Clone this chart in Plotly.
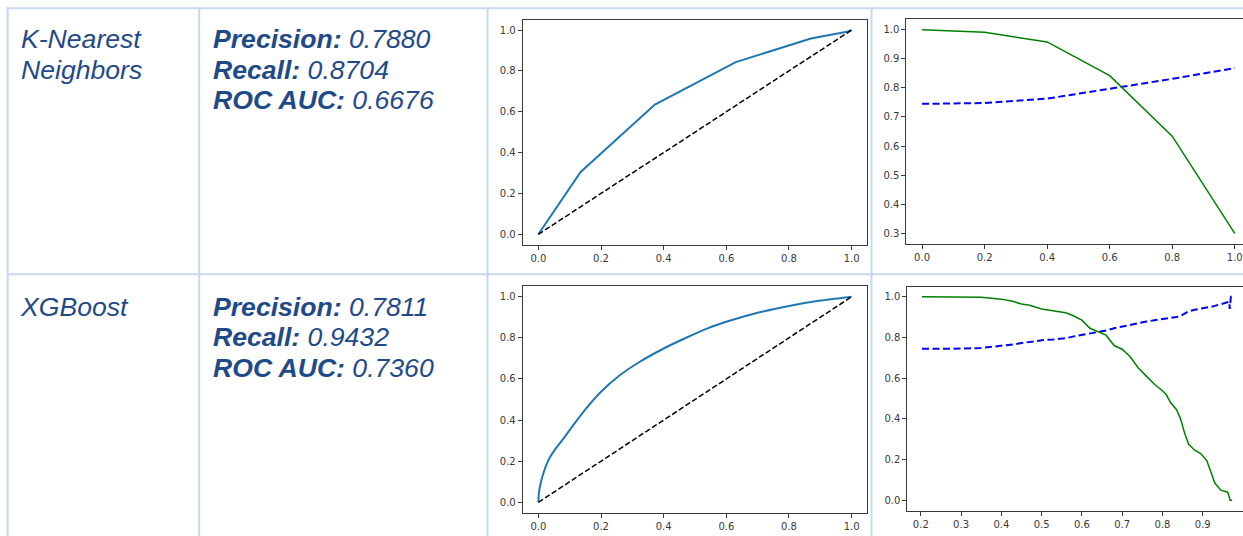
import plotly.graph_objects as go

W, H = 1243, 536

# ---------------- data ----------------
models = ["K-Nearest", "Neighbors"]
model2 = ["XGBoost"]
knn_metrics = [("Precision:", "0.7880"), ("Recall:", "0.8704"), ("ROC AUC:", "0.6676")]
xgb_metrics = [("Precision:", "0.7811"), ("Recall:", "0.9432"), ("ROC AUC:", "0.7360")]

knn_fpr = [0.0, 0.135, 0.372, 0.630, 0.870, 0.985, 1.0]
knn_tpr = [0.0, 0.305, 0.635, 0.843, 0.958, 0.991, 1.0]

knn_thr = [0.0, 0.2, 0.4, 0.6, 0.8, 1.0]
knn_precision = [0.745, 0.748, 0.763, 0.796, 0.831, 0.868]
knn_recall = [1.0, 0.991, 0.958, 0.842, 0.634, 0.300]

xgb_fpr = [0.0, 0.002, 0.008, 0.018, 0.032, 0.050, 0.080, 0.110, 0.150, 0.200,
           0.260, 0.320, 0.400, 0.470, 0.540, 0.610, 0.700, 0.800, 0.900, 1.0]
xgb_tpr = [0.0, 0.050, 0.098, 0.150, 0.205, 0.250, 0.310, 0.372, 0.452, 0.538,
           0.618, 0.680, 0.748, 0.799, 0.846, 0.883, 0.922, 0.955, 0.981, 1.0]

xgb_thr = [0.203, 0.25, 0.30, 0.35, 0.40, 0.43, 0.45, 0.47, 0.50, 0.53, 0.56, 0.58,
           0.60, 0.62, 0.64, 0.66, 0.68, 0.70, 0.72, 0.74, 0.76, 0.78, 0.80, 0.81,
           0.82, 0.835, 0.845, 0.855, 0.865, 0.88, 0.895, 0.91, 0.92, 0.93, 0.945,
           0.955, 0.962, 0.966, 0.967, 0.968, 0.969, 0.970, 0.973]
xgb_precision = [0.744, 0.744, 0.745, 0.748, 0.757, 0.766, 0.772, 0.778, 0.786, 0.790,
                 0.796, 0.805, 0.812, 0.822, 0.828, 0.834, 0.845, 0.853, 0.862, 0.872,
                 0.878, 0.884, 0.889, 0.892, 0.896, 0.900, 0.905, 0.918, 0.928, 0.936,
                 0.940, 0.944, 0.950, 0.955, 0.962, 0.968, 0.972, 0.975, 0.940, 0.990,
                 0.950, 1.0, 1.0]
xgb_recall = [1.0, 1.0, 1.0, 0.997, 0.988, 0.976, 0.964, 0.958, 0.940, 0.931, 0.921,
              0.905, 0.885, 0.845, 0.828, 0.811, 0.760, 0.742, 0.705, 0.650, 0.610,
              0.570, 0.538, 0.517, 0.480, 0.445, 0.400, 0.330, 0.275, 0.246, 0.230,
              0.195, 0.140, 0.085, 0.050, 0.045, 0.040, 0.015, 0.0, 0.0, 0.0, 0.0, 0.0]

# ---------------- styles ----------------
BORDER = "#c6d9f1"
TXT = "#1f4a8a"
FONT = "Liberation Sans, Arial, sans-serif"
AX = "#3a3a3a"

def xd(a, b):
    return [a / W, min(b / W, 1.0)]

def yd(top, bottom):
    return [1 - bottom / H, 1 - top / H]

fig = go.Figure()

# ROC KNN
fig.add_trace(go.Scatter(x=knn_fpr, y=knn_tpr, mode="lines",
                         line=dict(color="#1f77b4", width=2), xaxis="x", yaxis="y"))
fig.add_trace(go.Scatter(x=[0, 1], y=[0, 1], mode="lines",
                         line=dict(color="black", width=1.5, dash="5.5px,2.5px"),
                         xaxis="x", yaxis="y"))
# Threshold KNN
fig.add_trace(go.Scatter(x=knn_thr, y=knn_precision, mode="lines",
                         line=dict(color="#0000ff", width=2, dash="7px,3.5px"),
                         xaxis="x2", yaxis="y2"))
fig.add_trace(go.Scatter(x=knn_thr, y=knn_recall, mode="lines",
                         line=dict(color="#008000", width=1.5), xaxis="x2", yaxis="y2"))
# ROC XGB
fig.add_trace(go.Scatter(x=xgb_fpr, y=xgb_tpr, mode="lines", line_shape="spline",
                         line=dict(color="#1f77b4", width=2, smoothing=0.5),
                         xaxis="x3", yaxis="y3"))
fig.add_trace(go.Scatter(x=[0, 1], y=[0, 1], mode="lines",
                         line=dict(color="black", width=1.5, dash="5.5px,2.5px"),
                         xaxis="x3", yaxis="y3"))
# Threshold XGB
fig.add_trace(go.Scatter(x=xgb_thr, y=xgb_precision, mode="lines",
                         line=dict(color="#0000ff", width=2, dash="7px,3.5px"),
                         xaxis="x4", yaxis="y4"))
fig.add_trace(go.Scatter(x=xgb_thr, y=xgb_recall, mode="lines",
                         line=dict(color="#008000", width=1.5), xaxis="x4", yaxis="y4"))

tickfont = dict(family="DejaVu Sans", size=10, color=AX)

def axis(domain, rng, dtick, tick0, anchor, mirror=True):
    return dict(domain=domain, range=rng, dtick=dtick, tick0=tick0, tickformat=".1f",
                anchor=anchor, showgrid=False, zeroline=False, showline=True,
                linecolor=AX, linewidth=1, mirror=mirror, ticks="outside",
                ticklen=4, tickwidth=1, tickcolor=AX, tickfont=tickfont)

fig.update_layout(
    width=W, height=H, margin=dict(l=0, r=0, t=0, b=0),
    paper_bgcolor="white", plot_bgcolor="white", showlegend=False,
    xaxis=axis(xd(522.7, 867.3), [-0.05, 1.05], 0.2, 0, "y"),
    yaxis=axis(yd(19.8, 244.5), [-0.05, 1.05], 0.2, 0, "x"),
    xaxis2=axis(xd(906.4, 1243), [-0.05, 1.0264], 0.2, 0, "y2"),
    yaxis2=axis(yd(19.0, 244.3), [0.2622, 1.0368], 0.1, 0, "x2", mirror=False),
    xaxis3=axis(xd(522.7, 867.3), [-0.05, 1.05], 0.2, 0, "y3"),
    yaxis3=axis(yd(286.4, 512.6), [-0.05, 1.05], 0.2, 0, "x3"),
    xaxis4=axis(xd(907.3, 1243), [0.1665, 1.0], 0.1, 0, "y4"),
    yaxis4=axis(yd(286.5, 510.5), [-0.05, 1.05], 0.2, 0, "x4", mirror=False),
)

# table borders
shapes = []
for xv in [7.7, 199.2, 487.5, 871.5]:
    shapes.append(dict(type="line", xref="paper", yref="paper",
                       x0=xv / W, x1=xv / W, y0=1 - 7.2 / H, y1=0,
                       line=dict(color=BORDER, width=2)))
for yv in [8.2, 274.3]:
    shapes.append(dict(type="line", xref="paper", yref="paper",
                       x0=6.7 / W, x1=1, y0=1 - yv / H, y1=1 - yv / H,
                       line=dict(color=BORDER, width=2)))
fig.update_layout(shapes=shapes)

# text
ann = []
def add_text(txt, x, baseline):
    ann.append(dict(text=txt, x=x / W, y=1 - (baseline - 9) / H, xref="paper", yref="paper",
                    xanchor="left", yanchor="middle", showarrow=False,
                    font=dict(family=FONT, size=26.6, color=TXT)))

for i, m in enumerate(models):
    add_text(f"<i>{m}</i>", 19, 47.7 + 31.3 * i)
for i, (k, v) in enumerate(knn_metrics):
    add_text(f"<b><i>{k}</i></b><i> {v}</i>", 211, 48.3 + 30.3 * i)
for i, m in enumerate(model2):
    add_text(f"<i>{m}</i>", 18, 315.7)
for i, (k, v) in enumerate(xgb_metrics):
    add_text(f"<b><i>{k}</i></b><i> {v}</i>", 211, 315.7 + 30.5 * i)
fig.update_layout(annotations=ann)

fig.write_html("out.html", config={"displayModeBar": False},
               post_script="document.body.style.margin='0';document.body.style.overflow='hidden';")
